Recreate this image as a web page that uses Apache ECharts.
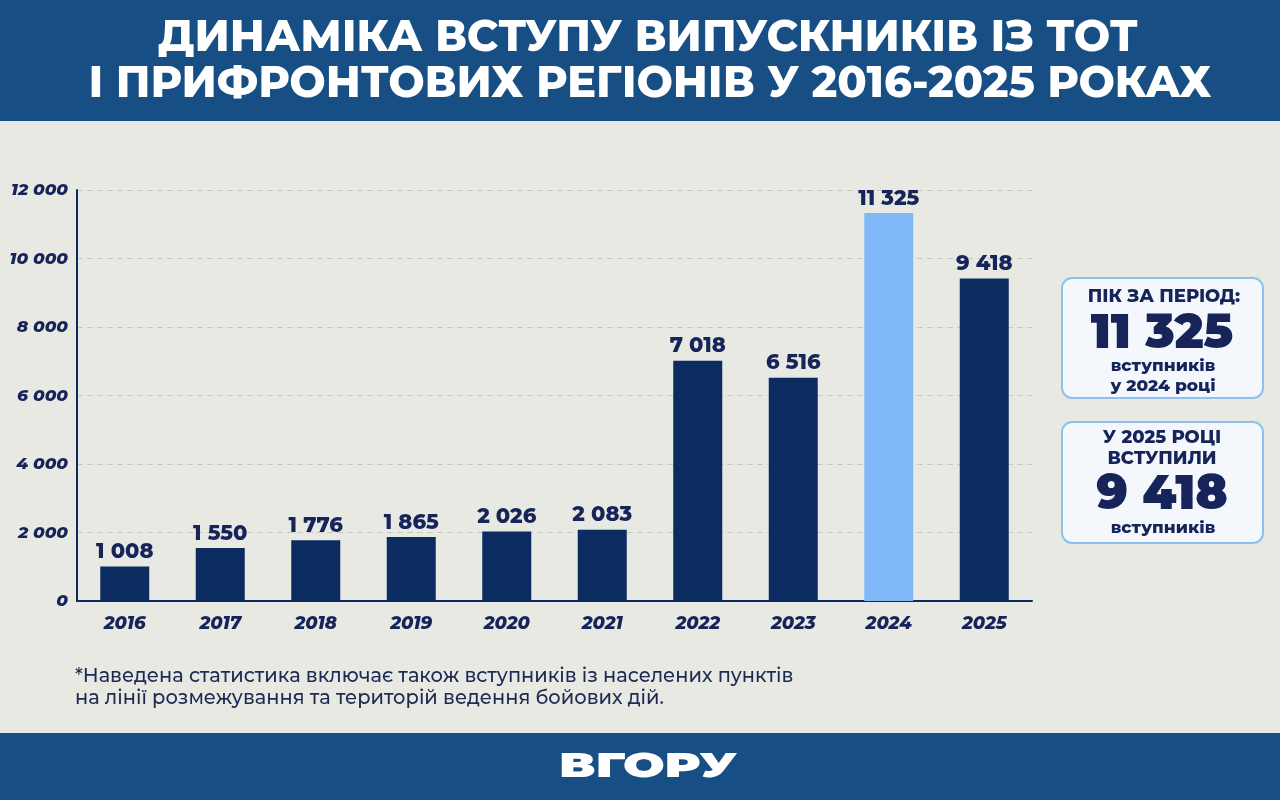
<!DOCTYPE html>
<html>
<head>
<meta charset="utf-8">
<script src="https://cdn.jsdelivr.net/npm/echarts@6/dist/echarts.min.js"></script>
<style>
html, body { margin: 0; padding: 0; background: #e9e9e4; }
#main { width: 1280px; height: 800px; }
</style>
</head>
<body>
<div id="main"></div>
<script>
// дані
var years = ['2016', '2017', '2018', '2019', '2020', '2021', '2022', '2023', '2024', '2025'];
var values = [1008, 1550, 1776, 1865, 2026, 2083, 7018, 6516, 11325, 9418];
var peakYear = '2024';
var titleLines = ['ДИНАМІКА ВСТУПУ ВИПУСКНИКІВ ІЗ ТОТ', 'І ПРИФРОНТОВИХ РЕГІОНІВ У 2016-2025 РОКАХ'];
var noteLines = ['*Наведена статистика включає також вступників із населених пунктів', 'на лінії розмежування та територій ведення бойових дій.'];

var navy = '#0c2b60';
var textNavy = '#17245a';
var band = '#174f84';
var font = 'Montserrat, Inter, "Open Sans", sans-serif';

function fmt(v) {
	return String(v).replace(/\B(?=(\d{3})+(?!\d))/g, ' ');
}

var barData = [];
for (var i = 0; i < values.length; i++) {
	barData.push({
		value: values[i],
		itemStyle: { color: years[i] == peakYear ? '#80b7f6' : navy }
	});
}

function boxText(x, y, txt, size, w) {
	return {
		type: 'text', x: x, y: y,
		style: { text: txt, fill: textNavy, font: (w || 800) + ' ' + size + 'px ' + font, align: 'center', verticalAlign: 'middle' }
	};
}

var myChart = echarts.init(document.getElementById('main'));
var option = {
	backgroundColor: '#e9e9e4',
	animation: false,
	grid: { left: 77, right: 248, top: 190, bottom: 199 },
	xAxis: {
		type: 'category',
		data: years,
		axisLine: { lineStyle: { color: navy, width: 2 } },
		axisTick: { show: false },
		axisLabel: { color: textNavy, fontFamily: font, fontWeight: 800, fontStyle: 'italic', fontSize: 18, margin: 14 }
	},
	yAxis: {
		type: 'value',
		min: 0, max: 12000, interval: 2000,
		axisLine: { show: true, lineStyle: { color: navy, width: 2 } },
		axisTick: { show: false },
		splitLine: { lineStyle: { color: '#c9c9c4', type: [6, 4], width: 1 } },
		axisLabel: {
			color: textNavy, fontFamily: font, fontWeight: 800, fontStyle: 'italic', fontSize: 17, margin: 9,
			formatter: function (v) { return fmt(v); }
		}
	},
	series: [{
		type: 'bar',
		data: barData,
		barWidth: 49,
		label: {
			show: true, position: 'top', distance: 4,
			color: textNavy, fontFamily: font, fontWeight: 800, fontSize: 21,
			formatter: function (p) { return fmt(p.value); }
		}
	}],
	graphic: [
		// шапка
		{ type: 'rect', shape: { x: 0, y: 0, width: 1280, height: 121 }, style: { fill: band }, z: 0 },
		{ type: 'text', x: 648, y: 38, style: { text: titleLines[0], fill: '#fff', font: '800 43px ' + font, align: 'center', verticalAlign: 'middle' } },
		{ type: 'text', x: 650, y: 84, style: { text: titleLines[1], fill: '#fff', font: '800 43px ' + font, align: 'center', verticalAlign: 'middle' } },
		// підвал
		{ type: 'rect', shape: { x: 0, y: 733, width: 1280, height: 67 }, style: { fill: band } },
		{ type: 'text', x: 648, y: 767, scaleX: 1.45, style: { text: 'ВГОРУ', fill: '#fff', font: '900 34px ' + font, align: 'center', verticalAlign: 'middle' } },
		// примітка
		{ type: 'text', x: 75, y: 676, style: { text: noteLines[0], fill: '#1e2a50', font: '500 19.4px ' + font, verticalAlign: 'middle' } },
		{ type: 'text', x: 75, y: 698, style: { text: noteLines[1], fill: '#1e2a50', font: '500 19.4px ' + font, verticalAlign: 'middle' } },
		// блоки
		{ type: 'rect', shape: { x: 1062, y: 278, width: 201, height: 120, r: 10 }, style: { fill: '#f4f8fc', stroke: '#8cc0f0', lineWidth: 2 } },
		boxText(1164, 297, 'ПІК ЗА ПЕРІОД:', 18),
		boxText(1162, 334, '11 325', 48, 900),
		boxText(1163, 366, 'вступників', 17),
		boxText(1163, 386, 'у 2024 році', 17),
		{ type: 'rect', shape: { x: 1062, y: 422, width: 201, height: 121, r: 10 }, style: { fill: '#f4f8fc', stroke: '#8cc0f0', lineWidth: 2 } },
		boxText(1162, 438, 'У 2025 РОЦІ', 18),
		boxText(1162, 459, 'ВСТУПИЛИ', 18),
		boxText(1162, 495, '9 418', 48, 900),
		boxText(1163, 528, 'вступників', 17)
	]
};
myChart.setOption(option);
</script>
</body>
</html>
